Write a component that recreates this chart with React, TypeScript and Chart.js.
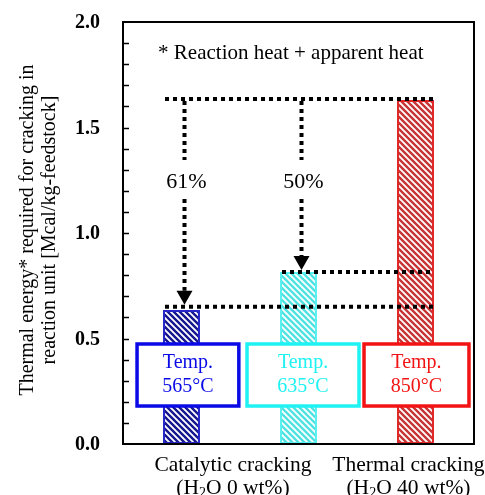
import { useEffect, useRef } from 'react';
import { Chart, registerables } from 'chart.js';

Chart.register(...registerables);

// ---- data ----
const categories = ['Catalytic 565', 'Catalytic 635', 'Thermal 850'];
const energyValues = [0.635, 0.815, 1.63];
const tempLabels = ['565°C', '635°C', '850°C'];
const referenceLevels = [1.635, 0.815, 0.65];
const reductionLabels = ['61%', '50%'];
const yTickValues = [0, 0.5, 1.0, 1.5, 2.0];
const yTickLabels = ['0.0', '0.5', '1.0', '1.5', '2.0'];
const groupLabels = ['Catalytic cracking', 'Thermal cracking'];
const groupSubLabels = [
  ['(H', '2', 'O 0 wt%)'],
  ['(H', '2', 'O 40 wt%)'],
];
const yTitleLines = ['Thermal energy* required for cracking in', 'reaction unit [Mcal/kg-feedstock]'];
const noteText = '* Reaction heat + apparent heat';

// ---- styles ----
const stripeColors = ['#161690', '#4fe2e2', '#c83434'];
const barBorders = ['#2626c8', '#5af0f0', '#e02828'];
const boxColors = ['#0a0ae6', '#1ef2f2', '#f21414'];
const FONT = '"Liberation Serif", "Times New Roman", serif';

function makeHatch(color: string): CanvasPattern | string {
  const s = 6;
  const c = document.createElement('canvas');
  c.width = s;
  c.height = s;
  const g = c.getContext('2d');
  if (!g) return color;
  g.fillStyle = '#ffffff';
  g.fillRect(0, 0, s, s);
  g.strokeStyle = color;
  g.lineWidth = 2.4;
  g.beginPath();
  g.moveTo(-1, -1);
  g.lineTo(s + 1, s + 1);
  g.moveTo(-2, s - 2);
  g.lineTo(2, s + 2);
  g.moveTo(s - 2, -2);
  g.lineTo(s + 2, 2);
  g.stroke();
  const p = g.createPattern(c, 'repeat');
  return p || color;
}

const overlayPlugin = {
  id: 'overlay',
  afterDatasetsDraw(chart: any) {
    const { ctx, chartArea: a, scales } = chart;
    const x = scales.x;
    const y = scales.y;
    const bars = chart.getDatasetMeta(0).data;
    const bx = (i: number) => bars[i].x as number;
    const bw = (i: number) => bars[i].width as number;
    ctx.save();

    // dotted reference lines
    ctx.strokeStyle = '#000';
    ctx.lineWidth = 4;
    ctx.setLineDash([4, 4]);
    const endX = bx(2) + bw(2) / 2;
    const hLine = (x0: number, v: number) => {
      const py = y.getPixelForValue(v);
      ctx.beginPath();
      ctx.moveTo(x0, py);
      ctx.lineTo(endX, py);
      ctx.stroke();
    };
    hLine(bx(0) - bw(0) / 2 + 2, referenceLevels[0]);
    hLine(bx(1) - bw(1) / 2 + 2, referenceLevels[1]);
    hLine(bx(0) - bw(0) / 2 + 2, referenceLevels[2]);

    // vertical arrows
    const targets = [2, 1];
    for (let i = 0; i < 2; i++) {
      const ax = bx(i) + 3;
      const top = y.getPixelForValue(referenceLevels[0]) + 2;
      const tip = y.getPixelForValue(referenceLevels[targets[i]]) - 2;
      const gapTop = y.getPixelForValue(1.346);
      const gapBot = y.getPixelForValue(1.161);
      const headH = 14;
      ctx.setLineDash([4, 4]);
      ctx.beginPath();
      ctx.moveTo(ax, top);
      ctx.lineTo(ax, gapTop);
      ctx.moveTo(ax, gapBot);
      ctx.lineTo(ax, tip - headH);
      ctx.stroke();
      ctx.setLineDash([]);
      ctx.fillStyle = '#000';
      ctx.beginPath();
      ctx.moveTo(ax - 8, tip - headH);
      ctx.lineTo(ax + 8, tip - headH);
      ctx.lineTo(ax, tip);
      ctx.closePath();
      ctx.fill();
      ctx.font = `22px ${FONT}`;
      ctx.textAlign = 'center';
      ctx.textBaseline = 'middle';
      ctx.fillText(reductionLabels[i], ax + 2, y.getPixelForValue(1.242));
    }
    ctx.setLineDash([]);

    // temperature boxes
    const boxRanges = [
      [-0.38, 0.49],
      [0.56, 1.517],
      [1.56, 2.457],
    ];
    const yb0 = y.getPixelForValue(0.474);
    const yb1 = y.getPixelForValue(0.18);
    for (let i = 0; i < 3; i++) {
      const x0 = x.getPixelForValue(boxRanges[i][0]);
      const x1 = x.getPixelForValue(boxRanges[i][1]);
      ctx.fillStyle = '#fff';
      ctx.fillRect(x0, yb0, x1 - x0, yb1 - yb0);
      ctx.strokeStyle = boxColors[i];
      ctx.lineWidth = 3.5;
      ctx.strokeRect(x0, yb0, x1 - x0, yb1 - yb0);
      const cx = (x0 + x1) / 2;
      const cy = (yb0 + yb1) / 2;
      ctx.fillStyle = boxColors[i];
      ctx.font = `20px ${FONT}`;
      ctx.textAlign = 'center';
      ctx.textBaseline = 'middle';
      ctx.fillText('Temp.', cx, cy - 12);
      ctx.fillText(tempLabels[i], cx, cy + 12);
    }

    // note
    ctx.fillStyle = '#000';
    ctx.font = `21px ${FONT}`;
    ctx.textAlign = 'left';
    ctx.textBaseline = 'middle';
    ctx.fillText(noteText, x.getPixelForValue(-0.2), y.getPixelForValue(1.853));

    // frame
    ctx.strokeStyle = '#000';
    ctx.lineWidth = 2;
    ctx.strokeRect(a.left, a.top, a.right - a.left, a.bottom - a.top);
    // inward minor ticks
    ctx.lineWidth = 1.5;
    for (let k = 1; k < 20; k++) {
      const py = Math.round(y.getPixelForValue(k / 10)) + 0.5;
      ctx.beginPath();
      ctx.moveTo(a.left, py);
      ctx.lineTo(a.left + 6, py);
      ctx.stroke();
    }

    // y tick labels
    ctx.fillStyle = '#000';
    ctx.font = `bold 20px ${FONT}`;
    ctx.textAlign = 'right';
    ctx.textBaseline = 'middle';
    yTickValues.forEach((v, i) => {
      ctx.fillText(yTickLabels[i], a.left - 23, y.getPixelForValue(v) + 1);
    });

    // x group labels
    const groupCenters = [0.44, 1.94];
    ctx.textBaseline = 'middle';
    for (let g = 0; g < 2; g++) {
      const cx = x.getPixelForValue(groupCenters[g]);
      ctx.font = `21.5px ${FONT}`;
      ctx.textAlign = 'center';
      ctx.fillText(groupLabels[g], cx, a.bottom + 21);
      const [p1, sub, p2] = groupSubLabels[g];
      const w1 = ctx.measureText(p1).width;
      const w3 = ctx.measureText(p2).width;
      ctx.font = `14px ${FONT}`;
      const w2 = ctx.measureText(sub).width;
      const total = w1 + w2 + w3;
      let sx = cx - total / 2;
      const ly = a.bottom + 44;
      ctx.textAlign = 'left';
      ctx.font = `21.5px ${FONT}`;
      ctx.fillText(p1, sx, ly);
      sx += w1;
      ctx.font = `14px ${FONT}`;
      ctx.fillText(sub, sx, ly + 5);
      sx += w2;
      ctx.font = `21.5px ${FONT}`;
      ctx.fillText(p2, sx, ly);
    }

    // y title
    const midY = (a.top + a.bottom) / 2 - 3;
    ctx.font = `20px ${FONT}`;
    ctx.textAlign = 'center';
    ctx.textBaseline = 'middle';
    const titleX = [28, 50];
    for (let l = 0; l < 2; l++) {
      ctx.save();
      ctx.translate(titleX[l], midY);
      ctx.rotate(-Math.PI / 2);
      ctx.fillText(yTitleLines[l], 0, 0);
      ctx.restore();
    }

    ctx.restore();
  },
};

export default function App() {
  const ref = useRef<HTMLCanvasElement | null>(null);
  useEffect(() => {
    if (!ref.current) return;
    const chart = new Chart(ref.current, {
      type: 'bar',
      data: {
        labels: categories,
        datasets: [
          {
            data: energyValues,
            backgroundColor: stripeColors.map((c) => makeHatch(c)) as any,
            borderColor: barBorders,
            borderWidth: 2,
            borderSkipped: false,
            barPercentage: 0.316,
            categoryPercentage: 1,
          },
        ],
      },
      options: {
        responsive: false,
        animation: false,
        layout: { padding: { top: 22, right: 11, bottom: 51, left: 0 } },
        plugins: { legend: { display: false }, tooltip: { enabled: false }, title: { display: false } },
        scales: {
          x: { display: false },
          y: {
            min: 0,
            max: 2,
            afterFit: (s: any) => {
              s.width = 123;
            },
            grid: { display: false, drawTicks: false },
            border: { display: false },
            ticks: { display: false, stepSize: 0.1 },
          },
        },
      },
      plugins: [overlayPlugin],
    });
    return () => chart.destroy();
  }, []);
  return (
    <div style={{ position: 'absolute', left: 0, top: 0, width: 485, height: 495, background: '#fff' }}>
      <canvas ref={ref} width={485} height={495} />
    </div>
  );
}
